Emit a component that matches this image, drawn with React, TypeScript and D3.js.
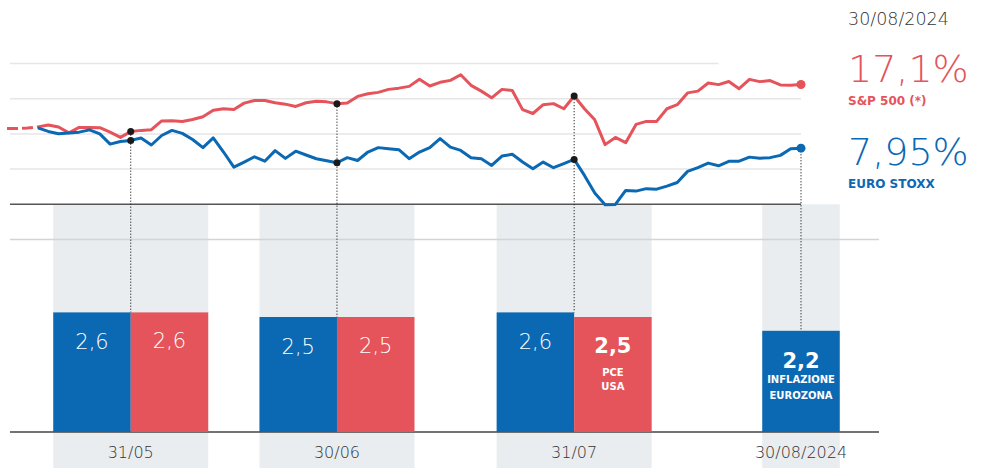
import React, { useEffect, useRef } from "react";
import * as d3 from "d3";

// trading-day index series (index 100 ~ start of period)
const sp500 = [
  100.31, 100.31, 100.33, 100.4, 100.51, 100.39, 100.06, 100.37, 100.37, 100.35,
  100.1, 99.8, 100.13, 100.2, 100.24, 100.74, 100.75, 100.71, 100.82, 100.97,
  101.34, 101.43, 101.39, 101.75, 101.9, 101.9, 101.77, 101.69, 101.56, 101.77,
  101.86, 101.82, 101.72, 101.75, 102.13, 102.28, 102.36, 102.53, 102.6, 102.7,
  103.1, 102.72, 102.93, 103.04, 103.36, 102.76, 102.43, 102.05, 102.53, 102.47,
  101.38, 101.16, 101.66, 101.72, 101.43, 102.15, 101.43, 100.8, 99.39, 99.8,
  99.5, 100.54, 100.71, 100.71, 101.43, 101.66, 102.33, 102.43, 102.89, 102.8,
  102.98, 102.57, 103.1, 102.97, 103.03, 102.78, 102.76, 102.81,
];
const euroStoxx = [
  null, null, null, 100.34, 100.14, 100.01, 100.05, 100.1, 100.23, 100.0,
  99.42, 99.57, 99.63, 99.77, 99.37, 99.91, 100.2, 100.03, 99.68, 99.22,
  99.77, 98.97, 98.11, 98.4, 98.7, 98.45, 99.05, 98.61, 99.02, 98.8,
  98.59, 98.48, 98.36, 98.65, 98.49, 98.97, 99.22, 99.16, 99.1, 98.59,
  98.97, 99.22, 99.73, 99.25, 99.06, 98.65, 98.59, 98.21, 98.74, 98.84,
  98.4, 98.02, 98.4, 98.08, 98.31, 98.55, 97.64, 96.64, 95.98, 95.99,
  96.79, 96.75, 96.89, 96.86, 97.03, 97.24, 97.87, 98.08, 98.34, 98.19,
  98.44, 98.45, 98.68, 98.62, 98.65, 98.78, 99.16, 99.19,
];
const gridValues = [94, 98, 100, 102, 104];

const dates = ["31/05", "30/06", "31/07", "30/08/2024"];
const dateIndex = [12, 32, 55, 77];
const inflEuro = [2.6, 2.5, 2.6, 2.2];
const pceUsa = [2.6, 2.5, 2.5, null];

const lastDate = "30/08/2024";
const spLabel = "17,1%";
const esLabel = "7,95%";

const RED = "#e4545a";
const BLUE = "#0b68b3";
const FONT = "'DejaVu Sans', sans-serif";

export default function App() {
  const ref = useRef(null);

  useEffect(() => {
    document.body.style.margin = "0";
    const root = d3.select(ref.current);
    root.selectAll("*").remove();
    const width = 986;
    const height = 468;

    const svg = root
      .append("svg")
      .attr("width", width)
      .attr("height", height)
      .style("font-family", FONT)
      .style("display", "block");

    const x = d3.scaleLinear().domain([0, 77]).range([7, 801]);
    const y = d3.scaleLinear().domain([94, 104]).range([239.5, 63.5]);
    const yb = d3.scaleLinear().domain([0, 5]).range([432, 202]);
    const fmt = (v) => d3.format(".1f")(v).replace(".", ",");
    const barW = 77.5;
    const right = x(77) + 78;

    // grey columns behind bars
    svg
      .append("g")
      .selectAll("rect")
      .data(dateIndex)
      .join("rect")
      .attr("x", (d, i) => x(d) - (pceUsa[i] == null ? barW / 2 : barW))
      .attr("width", (d, i) => (pceUsa[i] == null ? barW : barW * 2))
      .attr("y", y(96))
      .attr("height", height - y(96))
      .attr("fill", "#e9edef");

    // gridlines
    svg
      .append("g")
      .selectAll("line")
      .data(gridValues)
      .join("line")
      .attr("x1", 10)
      .attr("x2", (d) => (d === 104 ? x(69) : d === 94 ? right : x(77)))
      .attr("y1", (d) => y(d))
      .attr("y2", (d) => y(d))
      .attr("stroke", (d) => (d === 94 ? "#d4d4d4" : "#e6e6e6"))
      .attr("stroke-width", 1.5);

    svg
      .append("line")
      .attr("x1", 10)
      .attr("x2", x(77))
      .attr("y1", y(96))
      .attr("y2", y(96))
      .attr("stroke", "#555")
      .attr("stroke-width", 1.5);

    svg
      .append("line")
      .attr("x1", 10)
      .attr("x2", right)
      .attr("y1", yb(0))
      .attr("y2", yb(0))
      .attr("stroke", "#444")
      .attr("stroke-width", 1.5);

    // bars
    const bars = svg.append("g");
    dateIndex.forEach((idx, i) => {
      const single = pceUsa[i] == null;
      const bx = single ? x(idx) - barW / 2 : x(idx) - barW;
      const last = i === dates.length - 1;
      bars
        .append("rect")
        .attr("x", bx)
        .attr("y", yb(inflEuro[i]))
        .attr("width", barW)
        .attr("height", yb(0) - yb(inflEuro[i]))
        .attr("fill", BLUE);
      bars
        .append("text")
        .attr("x", bx + barW / 2)
        .attr("y", yb(inflEuro[i]) + 37)
        .attr("text-anchor", "middle")
        .attr("fill", "#fff")
        .attr("font-size", 21)
        .attr("font-weight", last ? 700 : 200)
        .text(fmt(inflEuro[i]));
      if (last) {
        ["INFLAZIONE", "EUROZONA"].forEach((t, k) =>
          bars
            .append("text")
            .attr("x", bx + barW / 2)
            .attr("y", yb(inflEuro[i]) + 52 + k * 16)
            .attr("text-anchor", "middle")
            .attr("fill", "#fff")
            .attr("font-size", 10)
            .attr("font-weight", 700)
            .text(t)
        );
      }
      if (!single) {
        const lastRed = i === 2;
        bars
          .append("rect")
          .attr("x", x(idx))
          .attr("y", yb(pceUsa[i]))
          .attr("width", barW)
          .attr("height", yb(0) - yb(pceUsa[i]))
          .attr("fill", RED);
        bars
          .append("text")
          .attr("x", x(idx) + barW / 2)
          .attr("y", yb(pceUsa[i]) + 36)
          .attr("text-anchor", "middle")
          .attr("fill", "#fff")
          .attr("font-size", 21)
          .attr("font-weight", lastRed ? 700 : 200)
          .text(fmt(pceUsa[i]));
        if (lastRed) {
          ["PCE", "USA"].forEach((t, k) =>
            bars
              .append("text")
              .attr("x", x(idx) + barW / 2)
              .attr("y", yb(pceUsa[i]) + 59 + k * 14)
              .attr("text-anchor", "middle")
              .attr("fill", "#fff")
              .attr("font-size", 10)
              .attr("font-weight", 700)
              .text(t)
          );
        }
      }
      // date label
      svg
        .append("text")
        .attr("x", x(idx))
        .attr("y", 458)
        .attr("text-anchor", "middle")
        .attr("fill", "#333")
        .attr("font-size", 16)
        .attr("font-weight", 200)
        .text(dates[i]);
    });

    // dotted connectors
    dateIndex.forEach((idx, i) => {
      const last = i === dates.length - 1;
      const top = last ? y(euroStoxx[idx]) + 6 : y(sp500[idx]);
      const bottom = yb(Math.max(inflEuro[i], pceUsa[i] ?? 0));
      svg
        .append("line")
        .attr("x1", x(idx))
        .attr("x2", x(idx))
        .attr("y1", top)
        .attr("y2", bottom)
        .attr("stroke", "#222")
        .attr("stroke-width", 1)
        .attr("stroke-dasharray", "1.2,1.8");
    });

    // lines
    const line = d3
      .line()
      .defined((d) => d[1] != null)
      .x((d) => x(d[0]))
      .y((d) => y(d[1]));

    const spPts = sp500.map((v, i) => [i, v]);
    svg
      .append("path")
      .datum(spPts.slice(0, 4))
      .attr("d", line)
      .attr("fill", "none")
      .attr("stroke", RED)
      .attr("stroke-width", 3)
      .attr("stroke-dasharray", "11,4");
    svg
      .append("path")
      .datum(spPts.slice(3))
      .attr("d", line)
      .attr("fill", "none")
      .attr("stroke", RED)
      .attr("stroke-width", 3)
      .attr("stroke-linejoin", "round");
    svg
      .append("path")
      .datum(euroStoxx.map((v, i) => [i, v]))
      .attr("d", line)
      .attr("fill", "none")
      .attr("stroke", BLUE)
      .attr("stroke-width", 3)
      .attr("stroke-linejoin", "round");

    // dots
    dateIndex.forEach((idx, i) => {
      const last = i === dates.length - 1;
      [
        [sp500[idx], RED],
        [euroStoxx[idx], BLUE],
      ].forEach(([v, c]) =>
        svg
          .append("circle")
          .attr("cx", x(idx))
          .attr("cy", y(v))
          .attr("r", last ? 4.5 : 3.5)
          .attr("fill", last ? c : "#1a1a1a")
      );
    });

    // right-hand labels
    const tx = 848;
    svg
      .append("text")
      .attr("x", tx)
      .attr("y", 25)
      .attr("fill", "#333")
      .attr("font-size", 17.5)
      .attr("font-weight", 200)
      .text(lastDate);
    svg
      .append("text")
      .attr("x", tx)
      .attr("y", 82)
      .attr("fill", RED)
      .attr("font-size", 38)
      .attr("font-weight", 200)
      .text(spLabel);
    svg
      .append("text")
      .attr("x", tx)
      .attr("y", 105)
      .attr("fill", RED)
      .attr("font-size", 12)
      .attr("font-weight", 700)
      .text("S&P 500 (*)");
    svg
      .append("text")
      .attr("x", tx)
      .attr("y", 165)
      .attr("fill", BLUE)
      .attr("font-size", 38)
      .attr("font-weight", 200)
      .text(esLabel);
    svg
      .append("text")
      .attr("x", tx)
      .attr("y", 188)
      .attr("fill", BLUE)
      .attr("font-size", 12)
      .attr("font-weight", 700)
      .text("EURO STOXX");
  }, []);

  return <div ref={ref} style={{ width: 986, height: 468 }}></div>;
}
